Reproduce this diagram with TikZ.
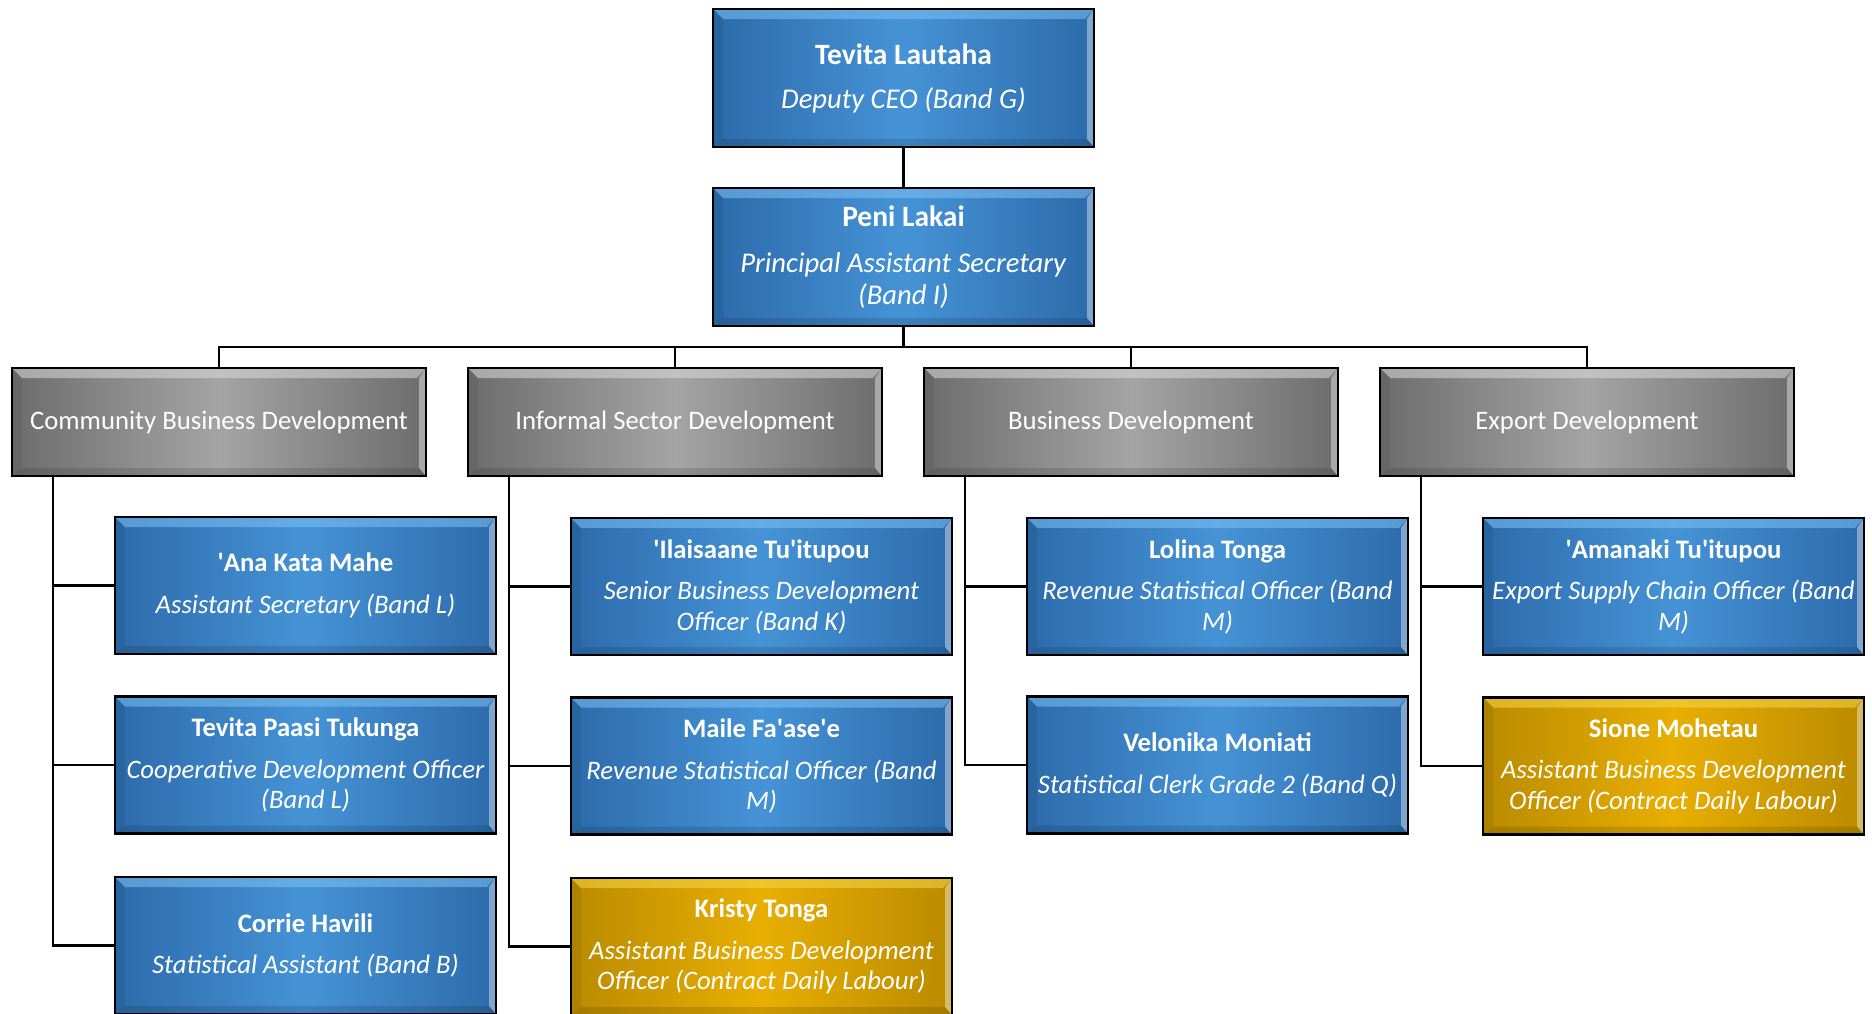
\documentclass[tikz,border=0pt]{standalone}
\usepackage{fontspec}
\setmainfont{Carlito}
\newcommand\apo{\textquotesingle}
\tikzset{
  bevel/.style n args={3}{
    path picture={
      \path[left color=#1,right color=#1,middle color=#2]
        (path picture bounding box.south west) rectangle (path picture bounding box.north east);
      \fill[#3,opacity=.55] (path picture bounding box.north west) -- (path picture bounding box.north east)
        -- ([shift={(-9pt,-10pt)}]path picture bounding box.north east)
        -- ([shift={(10pt,-10pt)}]path picture bounding box.north west) -- cycle;
      \fill[white,opacity=.4] (path picture bounding box.north east) -- (path picture bounding box.south east)
        -- ([shift={(-7pt,8pt)}]path picture bounding box.south east)
        -- ([shift={(-7pt,-10pt)}]path picture bounding box.north east) -- cycle;
      \fill[black,opacity=.12] (path picture bounding box.south west) -- (path picture bounding box.south east)
        -- ([shift={(-7pt,8pt)}]path picture bounding box.south east)
        -- ([shift={(10pt,8pt)}]path picture bounding box.south west) -- cycle;
      \fill[black,opacity=.07] (path picture bounding box.south west) -- (path picture bounding box.north west)
        -- ([shift={(10pt,-10pt)}]path picture bounding box.north west)
        -- ([shift={(10pt,8pt)}]path picture bounding box.south west) -- cycle;
    }
  },
  base/.style={draw=black, line width=2.2pt, inner sep=0pt, text=white, align=center,
    font=\fontsize{26.7}{30.5}\selectfont},
  bigtext/.style={font=\fontsize{28.6}{32}\selectfont},
  bluebox/.style={base, minimum width=381pt, minimum height=137pt,
    bevel={blueE}{blueC}{blueL}},
  goldbox/.style={base, minimum width=381pt, minimum height=137pt,
    bevel={goldE}{goldC}{goldL}},
  greybox/.style={base, minimum width=414pt, minimum height=108pt,
    bevel={greyE}{greyC}{greyL}},
  link/.style={draw=black, line width=2.4pt},
}
\definecolor{blueE}{HTML}{2D6BAB}
\definecolor{blueC}{HTML}{4593D6}
\definecolor{blueL}{HTML}{7CC2F5}
\definecolor{goldE}{HTML}{BA8B00}
\definecolor{goldC}{HTML}{E8AE02}
\definecolor{goldL}{HTML}{F8D84A}
\definecolor{greyE}{HTML}{6D6D6D}
\definecolor{greyC}{HTML}{A4A4A4}
\definecolor{greyL}{HTML}{DADADA}
\begin{document}
\begin{tikzpicture}[x=1pt,y=-1pt]
\useasboundingbox (0,0) rectangle (1872,1013);
\fill[white] (0,0) rectangle (1872,1013);

% top
\node[bluebox, bigtext, minimum height=138pt] (ceo) at (903.5,78)
  {{\fontsize{29.5}{32}\selectfont\textbf{Tevita Lautaha}}\\[12pt]\textit{Deputy CEO (Band G)}};
\node[bluebox, bigtext, minimum height=138pt] (pas) at (903.5,257)
  {{\fontsize{29.5}{32}\selectfont\textbf{Peni Lakai}}\\[14pt]\textit{Principal Assistant Secretary}\\\textit{(Band I)}};

% divisions
\node[greybox] (d1) at (219,422) {Community Business Development};
\node[greybox] (d2) at (675,422) {Informal Sector Development};
\node[greybox] (d3) at (1131,422) {Business Development};
\node[greybox] (d4) at (1587,422) {Export Development};

% community
\node[bluebox] (c11) at (305.5,585.5)
  {\textbf{\apo Ana Kata Mahe}\\[11pt]\textit{Assistant Secretary (Band L)}};
\node[bluebox] (c12) at (305.5,765)
  {\textbf{Tevita Paasi Tukunga}\\[11pt]\textit{Cooperative Development Officer}\\\textit{(Band L)}};
\node[bluebox] (c13) at (305.5,945.5)
  {\textbf{Corrie Havili}\\[11pt]\textit{Statistical Assistant (Band B)}};

% informal
\node[bluebox] (c21) at (761.5,586.5)
  {\textbf{\apo Ilaisaane Tu\apo itupou}\\[11pt]\textit{Senior Business Development}\\\textit{Officer (Band K)}};
\node[bluebox] (c22) at (761.5,766)
  {\textbf{Maile Fa\apo ase\apo e}\\[11pt]\textit{Revenue Statistical Officer (Band}\\\textit{M)}};
\node[goldbox] (c23) at (761.5,946.5)
  {\textbf{Kristy Tonga}\\[11pt]\textit{Assistant Business Development}\\\textit{Officer (Contract Daily Labour)}};

% business
\node[bluebox] (c31) at (1217.5,586.5)
  {\textbf{Lolina Tonga}\\[11pt]\textit{Revenue Statistical Officer (Band}\\\textit{M)}};
\node[bluebox] (c32) at (1217.5,765)
  {\textbf{Velonika Moniati}\\[11pt]\textit{Statistical Clerk Grade 2 (Band Q)}};

% export
\node[bluebox] (c41) at (1673.5,586.5)
  {\textbf{\apo Amanaki Tu\apo itupou}\\[11pt]\textit{Export Supply Chain Officer (Band}\\\textit{M)}};
\node[goldbox] (c42) at (1673.5,766)
  {\textbf{Sione Mohetau}\\[11pt]\textit{Assistant Business Development}\\\textit{Officer (Contract Daily Labour)}};

% connectors
\draw[link] (ceo.south) -- (pas.north);
\coordinate (bus) at (903.5,347);
\draw[link] (pas.south) -- (bus);
\draw[link] (bus) -| (d1.north);
\draw[link] (bus) -| (d2.north);
\draw[link] (bus) -| (d3.north);
\draw[link] (bus) -| (d4.north);

\draw[link] ([xshift=42pt]d1.south west) |- (c13.west);
\draw[link] ([xshift=42pt]d1.south west) |- (c11.west);
\draw[link] ([xshift=42pt]d1.south west) |- (c12.west);

\draw[link] ([xshift=42pt]d2.south west) |- (c23.west);
\draw[link] ([xshift=42pt]d2.south west) |- (c21.west);
\draw[link] ([xshift=42pt]d2.south west) |- (c22.west);

\draw[link] ([xshift=42pt]d3.south west) |- (c32.west);
\draw[link] ([xshift=42pt]d3.south west) |- (c31.west);

\draw[link] ([xshift=42pt]d4.south west) |- (c42.west);
\draw[link] ([xshift=42pt]d4.south west) |- (c41.west);
\end{tikzpicture}
\end{document}
